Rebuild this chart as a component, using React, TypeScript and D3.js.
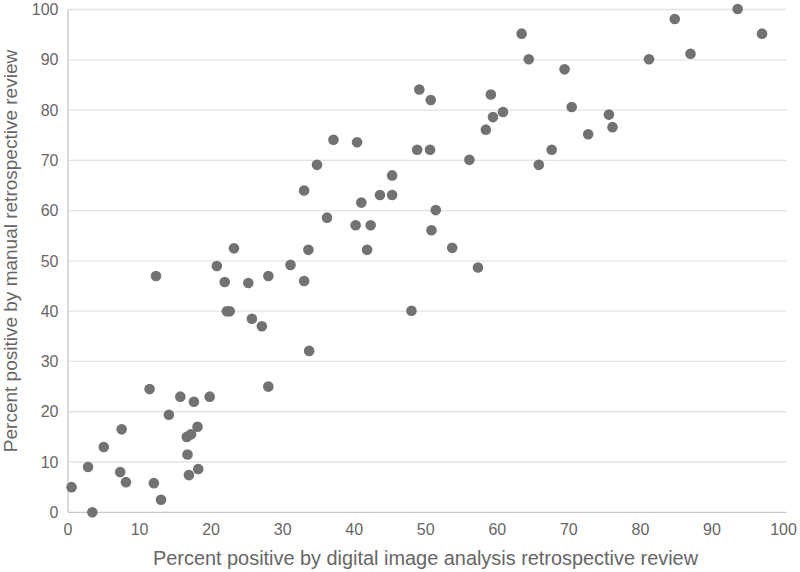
import React from "react";
import * as d3 from "d3";

const xValues = [
  0.5, 3.4, 2.8, 5.0, 7.5, 7.3, 8.1, 11.4, 12.3, 12.0, 13.0, 14.1, 15.7, 17.6, 19.8, 18.1,
  16.6, 17.2, 16.7, 16.9, 18.2, 20.8, 21.9, 22.2, 22.6, 25.2, 25.7, 27.1, 28.0, 28.0,
  23.2, 31.1, 33.0, 33.7, 48.0, 57.3,
  63.4, 64.4, 49.1, 50.7, 59.1, 59.4, 60.8, 58.4, 37.1, 40.4, 48.8, 50.6, 56.1, 34.8,
  45.3, 33.0, 43.6, 45.3, 41.0, 36.2, 40.2, 42.3, 51.4, 50.8, 33.6, 41.8, 53.7,
  69.4, 70.4, 75.6, 76.1, 72.7, 67.6, 65.8, 81.2, 87.0, 84.8, 93.6, 97.0,
];
const yValues = [
  5.0, 0, 9.0, 13.0, 16.5, 8.0, 6.0, 24.5, 47.0, 5.8, 2.5, 19.4, 23.0, 22.0, 23.0, 17.0,
  15.0, 15.5, 11.5, 7.4, 8.6, 49.0, 45.8, 40.0, 40.0, 45.6, 38.5, 37.0, 47.0, 25.0,
  52.5, 49.2, 46.0, 32.1, 40.1, 48.7,
  95.2, 90.1, 84.1, 82.0, 83.1, 78.6, 79.6, 76.1, 74.1, 73.6, 72.1, 72.1, 70.1, 69.1,
  67.0, 64.0, 63.1, 63.1, 61.6, 58.6, 57.1, 57.1, 60.1, 56.1, 52.2, 52.2, 52.6,
  88.1, 80.6, 79.1, 76.6, 75.2, 72.1, 69.1, 90.1, 91.2, 98.1, 100.1, 95.2,
];
const xTicks = [0, 10, 20, 30, 40, 50, 60, 70, 80, 90, 100];
const yTicks = [0, 10, 20, 30, 40, 50, 60, 70, 80, 90, 100];
const xTitle = "Percent positive by digital image analysis retrospective review";
const yTitle = "Percent positive by manual retrospective review";

export default function App() {
  const W = 800;
  const H = 572;
  const x = d3.scaleLinear().domain([0, 100]).range([68, 783.5]);
  const y = d3.scaleLinear().domain([0, 100]).range([512.3, 9.5]);
  const font = "'Liberation Sans', Arial, Helvetica, sans-serif";
  const pts = xValues.map((v, i) => [v, yValues[i]]);
  return (
    <svg
      width={W}
      height={H}
      style={{ position: "absolute", left: 0, top: 0, background: "#fff" }}
      fontFamily={font}
    >
      {yTicks.map((t) => (
        <line
          key={"g" + t}
          x1={x(0)}
          x2={x(100) + 3}
          y1={y(t)}
          y2={y(t)}
          stroke={t === 0 ? "#c8c8c8" : "#e3e3e3"}
          strokeWidth={1.3}
        />
      ))}
      <line x1={x(0)} x2={x(0)} y1={y(100)} y2={y(0)} stroke="#c8c8c8" strokeWidth={1.3} />
      {yTicks.map((t) => (
        <text
          key={"yt" + t}
          x={58.5}
          y={y(t)}
          dy="0.35em"
          textAnchor="end"
          fontSize={16}
          fill="#666"
        >
          {t}
        </text>
      ))}
      {xTicks.map((t) => (
        <text
          key={"xt" + t}
          x={x(t)}
          y={535}
          textAnchor="middle"
          fontSize={16}
          fill="#666"
        >
          {t}
        </text>
      ))}
      <text x={425.5} y={565} textAnchor="middle" fontSize={19.9} fill="#666">
        {xTitle}
      </text>
      <text
        transform={`translate(17, 251) rotate(-90)`}
        textAnchor="middle"
        fontSize={19}
        fill="#666"
      >
        {yTitle}
      </text>
      {pts.map(([a, b], i) => (
        <circle key={i} cx={x(a)} cy={y(b)} r={5.3} fill="#727272" />
      ))}
    </svg>
  );
}
